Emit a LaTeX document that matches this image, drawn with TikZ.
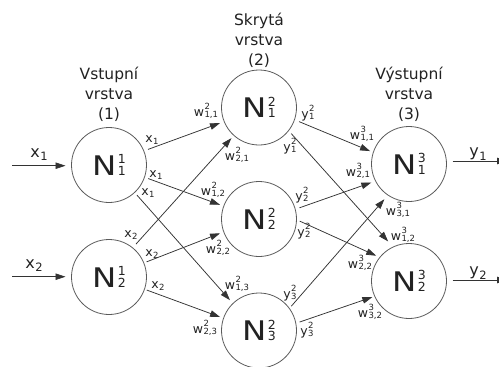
\documentclass[tikz,border=0pt]{standalone}
\usepackage{fontspec}
\setmainfont{DejaVu Sans}
\newfontfamily\neurfont[FakeStretch=1.2]{DejaVu Sans}
\usetikzlibrary{arrows.meta}
\definecolor{inkc}{HTML}{222222}
\definecolor{edgec}{HTML}{333333}
\definecolor{ringc}{HTML}{5A5A5A}

% neuron name: N with the layer number on top and the position below
\newcommand\neur[2]{{\fontsize{27}{27}\selectfont\neurfont N}\kern1.5pt{\fontsize{12.5}{11.5}\selectfont\vbox{\hbox{#1}\hbox{#2}}}}
% small symbol with stacked superscript and subscript
\newcommand\supsub[3]{#1\kern0.4pt\raisebox{-1.2pt}{\fontsize{8.5}{8.3}\selectfont\vbox{\hbox{#2}\hbox{#3}}}}
% small symbol with a subscript only
\newcommand\subsm[2]{#1\kern0.4pt\raisebox{-2.6pt}{\fontsize{8.5}{8.5}\selectfont #2}}
% large symbol with a subscript (network inputs and outputs)
\newcommand\subbig[2]{#1\kern0.5pt\raisebox{-3.5pt}{\fontsize{11.5}{12}\selectfont #2}}

\begin{document}
\begin{tikzpicture}[x=1pt,y=-1pt,
  neuron/.style={circle,draw=ringc,line width=0.8pt,minimum size=75pt,inner sep=0pt,outer sep=0pt,text=inkc},
  layer/.style={align=center,anchor=north,inner sep=0pt,text=inkc,font=\fontsize{15.5}{20}\selectfont},
  elabel/.style={inner sep=0pt,text=inkc,font=\fontsize{12.5}{14}\selectfont},
  iolabel/.style={inner sep=0pt,anchor=base,text=inkc,font=\fontsize{16}{18}\selectfont},
  wire/.style={draw=edgec,line width=0.75pt,-{Triangle[length=10pt,width=6.5pt]}}
]
\useasboundingbox[fill=white] (0,0) rectangle (499,367);

% layer captions
\node[layer] (cap1) at (109,66.5) {Vstupní\\vrstva\\(1)};
\node[layer] (cap2) at (259,12.8) {Skrytá\\vrstva\\(2)};
\node[layer] (cap3) at (409,67) {Výstupní\\vrstva\\(3)};

% neurons
\node[neuron] (N11) at (109,165) {\neur{1}{1}};
\node[neuron] (N12) at (109,277) {\neur{1}{2}};
\node[neuron] (N21) at (259,107.5) {\neur{2}{1}};
\node[neuron] (N22) at (259,219) {\neur{2}{2}};
\node[neuron] (N23) at (259,330.5) {\neur{2}{3}};
\node[neuron] (N31) at (409,164) {\neur{3}{1}};
\node[neuron] (N32) at (409,281) {\neur{3}{2}};

% network inputs
\coordinate (in1) at (12,165.7);
\coordinate (in2) at (12,276.7);
\draw[wire,shorten >=6pt] (in1) -- (in1 -| N11.west);
\draw[wire,shorten >=6pt] (in2) -- (in2 -| N12.west);
\node[iolabel] (lin1) at (39,157) {\subbig{x}{1}};
\node[iolabel] (lin2) at (34,268) {\subbig{x}{2}};

% network outputs
\coordinate (out1) at (507,161);
\coordinate (out2) at (507,280);
\draw[wire,shorten <=6pt] (N31.east |- out1) -- (out1);
\draw[wire,shorten <=6pt] (N32.east |- out2) -- (out2);
\node[iolabel] (lout1) at (478,156.5) {\subbig{y}{1}};
\node[iolabel] (lout2) at (478,275.7) {\subbig{y}{2}};

% input layer -> hidden layer
\draw[wire,shorten <=4.5pt,shorten >=4.5pt] (N11.22) -- (N21.202);
\draw[wire,shorten <=4pt,shorten >=4pt] (N11.-19) -- (N22.160);
\draw[wire,shorten <=3.5pt,shorten >=4.5pt] (N11.-47) -- (N23.134);
\draw[wire,shorten <=5pt,shorten >=3.7pt] (N12.51) -- (N21.228);
\draw[wire,shorten <=3pt,shorten >=4pt] (N12.22) -- (N22.200);
\draw[wire,shorten <=2.5pt,shorten >=3.7pt] (N12.-19) -- (N23.161);

% hidden layer -> output layer
\draw[wire,shorten <=5pt,shorten >=3.5pt] (N21.-19) -- (N31.162);
\draw[wire,shorten <=4pt,shorten >=7.5pt] (N21.-38) -- (N32.115);
\draw[wire,shorten <=4.5pt,shorten >=4.5pt] (N22.15) -- (N31.207);
\draw[wire,shorten <=3.5pt,shorten >=4pt] (N22.-1) -- (N32.141);
\draw[wire,shorten <=3pt,shorten >=5.5pt] (N23.36) -- (N31.236);
\draw[wire,shorten <=4pt,shorten >=2.5pt] (N23.11) -- (N32.204);

% signals leaving the input layer
\node[elabel] (x1a) at (152,140) {\subsm{x}{1}};
\node[elabel] (x1b) at (156,175) {\subsm{x}{1}};
\node[elabel] (x1c) at (148,193) {\subsm{x}{1}};
\node[elabel] (x2a) at (131,235) {\subsm{x}{2}};
\node[elabel] (x2b) at (152,254) {\subsm{x}{2}};
\node[elabel] (x2c) at (158,286) {\subsm{x}{2}};

% hidden layer weights
\node[elabel] (w211) at (206,111) {\supsub{w}{2}{1,1}};
\node[elabel] (w221) at (237,155) {\supsub{w}{2}{2,1}};
\node[elabel] (w212) at (213,190) {\supsub{w}{2}{1,2}};
\node[elabel] (w222) at (218,248) {\supsub{w}{2}{2,2}};
\node[elabel] (w213) at (237,284) {\supsub{w}{2}{1,3}};
\node[elabel] (w223) at (205,328) {\supsub{w}{2}{2,3}};

% signals leaving the hidden layer
\node[elabel] (y1a) at (308,113) {\supsub{y}{2}{1}};
\node[elabel] (y1b) at (290,146) {\supsub{y}{2}{1}};
\node[elabel] (y2a) at (302,195) {\supsub{y}{2}{2}};
\node[elabel] (y2b) at (304,231) {\supsub{y}{2}{2}};
\node[elabel] (y3a) at (290,293) {\supsub{y}{2}{3}};
\node[elabel] (y3b) at (307,330) {\supsub{y}{2}{3}};

% output layer weights
\node[elabel] (w311) at (362,134) {\supsub{w}{3}{1,1}};
\node[elabel] (w321) at (358,171) {\supsub{w}{3}{2,1}};
\node[elabel] (w331) at (398,210) {\supsub{w}{3}{3,1}};
\node[elabel] (w312) at (403,235) {\supsub{w}{3}{1,2}};
\node[elabel] (w322) at (360,263) {\supsub{w}{3}{2,2}};
\node[elabel] (w332) at (370,312) {\supsub{w}{3}{3,2}};
\end{tikzpicture}
\end{document}
